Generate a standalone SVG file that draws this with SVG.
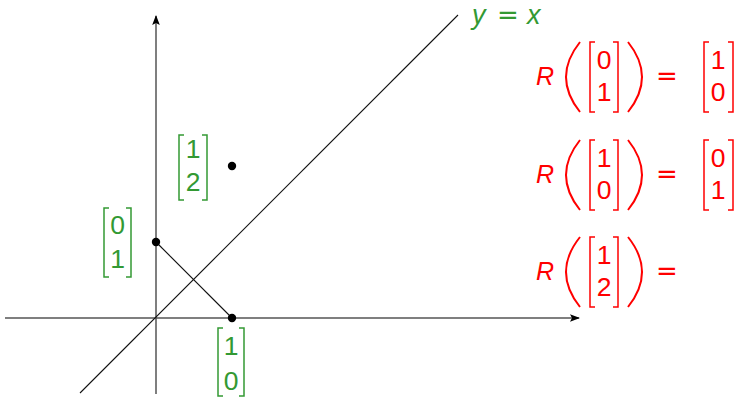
<svg xmlns="http://www.w3.org/2000/svg" width="738" height="397" viewBox="0 0 738 397">
<defs>
<style>
.axis{stroke:#555;stroke-width:1.5;fill:none}
.thin{stroke:#111;stroke-width:1.1;fill:none}
.g{fill:#339933;font-family:"Liberation Sans",Arial,sans-serif;font-size:26.5px;text-anchor:middle}
.r{fill:#ff0000;font-family:"Liberation Sans",Arial,sans-serif;font-size:26.5px;text-anchor:middle}
.ri{fill:#ff0000;font-family:"Liberation Sans",Arial,sans-serif;font-size:25px;font-style:italic}
.eq{fill:#ff0000;font-family:"DejaVu Sans",sans-serif;font-size:26px;text-anchor:middle}
.gb{stroke:#339933;stroke-width:1.5;fill:none}
.rb{stroke:#ff0000;stroke-width:1.5;fill:none}
.rp{stroke:#ff0000;stroke-width:2;fill:none}
.dot{fill:#000}
</style>
<marker id="arr" viewBox="0 0 10 10" refX="9" refY="5" markerWidth="10" markerHeight="10" markerUnits="userSpaceOnUse" orient="auto">
<path d="M0,1.2 L10,5 L0,8.8 L2,5 Z" fill="#000"/>
</marker>
</defs>
<g id="connectors">
<line class="axis" x1="5" y1="318" x2="579" y2="318" marker-end="url(#arr)"/>
<line class="axis" x1="156" y1="394" x2="156" y2="16" marker-end="url(#arr)"/>
<line class="thin" x1="80" y1="393" x2="458" y2="15"/>
<line class="thin" x1="156" y1="242" x2="232" y2="318"/>
</g>
<g id="label-yx">
<text x="472" y="24" style="fill:#339933;font-family:'Liberation Sans',Arial,sans-serif;font-size:27px;font-style:italic">y</text>
<text x="508" y="24" style="fill:#339933;font-family:'DejaVu Sans',sans-serif;font-size:26px;text-anchor:middle">=</text>
<text x="527" y="24" style="fill:#339933;font-family:'Liberation Sans',Arial,sans-serif;font-size:27px;font-style:italic">x</text>
</g>
<g id="point-01">
<circle class="dot" cx="156" cy="242" r="4.2"/>
<polyline class="gb" points="109,208 104,208 104,277 109,277"/>
<polyline class="gb" points="126,208 131,208 131,277 126,277"/>
<text class="g" x="117.5" y="234">0</text>
<text class="g" x="117.5" y="268">1</text>
</g>
<g id="point-10">
<circle class="dot" cx="232" cy="318" r="4.2"/>
<polyline class="gb" points="223,328 218,328 218,396 223,396"/>
<polyline class="gb" points="239,328 244,328 244,396 239,396"/>
<text class="g" x="231" y="355">1</text>
<text class="g" x="231" y="390">0</text>
</g>
<g id="point-12">
<circle class="dot" cx="232" cy="166" r="4.2"/>
<polyline class="gb" points="184,135 179,135 179,200 184,200"/>
<polyline class="gb" points="202,135 207,135 207,200 202,200"/>
<text class="g" x="193" y="158">1</text>
<text class="g" x="193" y="191">2</text>
</g>
<g id="eq1">
<text class="ri" x="536" y="85">R</text>
<path class="rp" d="M580,42 Q552,77 580,112"/>
<polyline class="rb" points="595,42 590,42 590,112 595,112"/>
<text class="r" x="604" y="69">0</text>
<text class="r" x="604" y="101">1</text>
<polyline class="rb" points="613,42 618,42 618,112 613,112"/>
<path class="rp" d="M628,42 Q656,77 628,112"/>
<text class="eq" x="667" y="85">=</text>
<polyline class="rb" points="709,42 704,42 704,112 709,112"/>
<text class="r" x="718" y="69">1</text>
<text class="r" x="718" y="101">0</text>
<polyline class="rb" points="728,42 733,42 733,112 728,112"/>
</g>
<g id="eq2">
<text class="ri" x="536" y="183">R</text>
<path class="rp" d="M580,140 Q552,175 580,210"/>
<polyline class="rb" points="595,140 590,140 590,210 595,210"/>
<text class="r" x="604" y="167">1</text>
<text class="r" x="604" y="199">0</text>
<polyline class="rb" points="613,140 618,140 618,210 613,210"/>
<path class="rp" d="M628,140 Q656,175 628,210"/>
<text class="eq" x="667" y="183">=</text>
<polyline class="rb" points="709,140 704,140 704,210 709,210"/>
<text class="r" x="718" y="167">0</text>
<text class="r" x="718" y="199">1</text>
<polyline class="rb" points="728,140 733,140 733,210 728,210"/>
</g>
<g id="eq3">
<text class="ri" x="536" y="280">R</text>
<path class="rp" d="M580,237 Q552,272 580,307"/>
<polyline class="rb" points="595,237 590,237 590,307 595,307"/>
<text class="r" x="604" y="264">1</text>
<text class="r" x="604" y="296">2</text>
<polyline class="rb" points="613,237 618,237 618,307 613,307"/>
<path class="rp" d="M628,237 Q656,272 628,307"/>
<text class="eq" x="667" y="280">=</text>
</g>
</svg>
